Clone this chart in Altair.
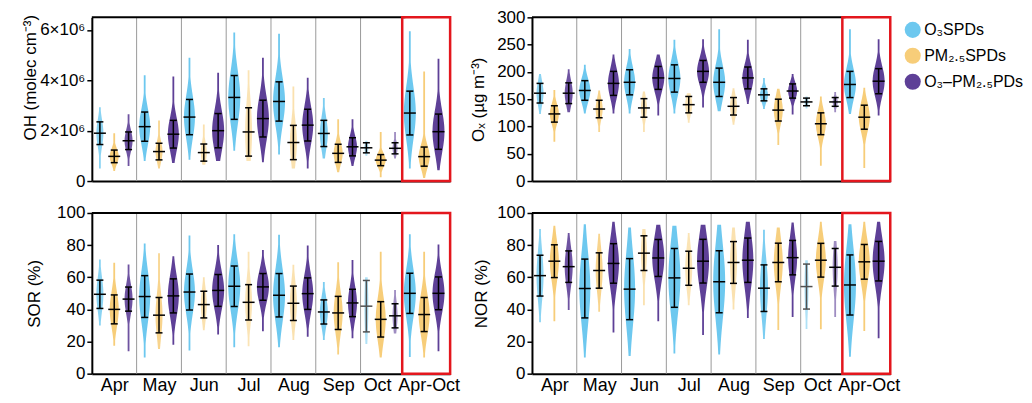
import json
import math
import altair as alt
import pandas as pd

months = ["Apr", "May", "Jun", "Jul", "Aug", "Sep", "Oct", "Apr-Oct"]
series = ["O₃SPDs", "PM₂.₅SPDs", "O₃–PM₂.₅PDs"]
colors = ["#6DC8EF", "#F7CD79", "#5E4097"]

# ---- OH (10^6 molec cm^-3): mean, SD, min, max per month ----
oh_mean_o3 = [1.90, 2.16, 2.54, 3.32, 3.16, 1.89, 1.32, 2.70]
oh_sd_o3 = [0.45, 0.58, 0.70, 0.87, 0.78, 0.52, 0.20, 0.87]
oh_min_o3 = [0.50, 0.80, 0.85, 1.20, 1.05, 0.90, 1.00, 0.50]
oh_max_o3 = [2.93, 4.20, 4.90, 5.90, 5.85, 3.30, 1.60, 5.95]
oh_mean_pm = [0.98, 1.17, 1.13, 1.95, 1.53, 1.10, 0.83, 0.97]
oh_sd_pm = [0.25, 0.33, 0.34, 0.96, 0.68, 0.36, 0.22, 0.38]
oh_min_pm = [0.40, 0.50, 0.65, 0.80, 0.50, 0.35, 0.15, 0.12]
oh_max_pm = [1.90, 2.40, 2.25, 4.40, 3.75, 2.45, 1.95, 4.35]
oh_mean_both = [1.60, 1.86, 2.00, 2.48, 2.22, 1.36, 1.30, 1.96]
oh_sd_both = [0.35, 0.55, 0.68, 0.73, 0.63, 0.36, 0.22, 0.70]
oh_min_both = [0.60, 0.72, 0.80, 0.75, 0.50, 0.60, 0.90, 0.43]
oh_max_both = [2.65, 4.15, 4.30, 4.90, 4.10, 2.45, 1.95, 4.86]

# ---- Ox (ug m-3) ----
ox_mean_o3 = [161, 166, 181, 188, 181, 158, 145, 177]
ox_sd_o3 = [18, 18, 23, 25, 26, 11, 7, 24]
ox_min_o3 = [123, 124, 124, 124, 128, 132, 133, 123]
ox_max_o3 = [196, 213, 242, 259, 278, 189, 155, 278]
ox_mean_pm = [123, 132, 134, 140, 137, 130, 105, 117]
ox_sd_pm = [15, 16, 17, 15, 16, 20, 20, 22]
ox_min_pm = [72, 90, 90, 107, 103, 66, 28, 24]
ox_max_pm = [167, 166, 164, 161, 170, 169, 155, 171]
ox_mean_both = [161, 179, 189, 201, 189, 165, 145, 183]
ox_sd_both = [19, 22, 21, 20, 20, 13, 8, 23]
ox_min_both = [126, 124, 120, 135, 141, 122, 126, 120]
ox_max_both = [205, 232, 232, 260, 259, 196, 163, 260]

# ---- SOR (%) ----
sor_mean_o3 = [49.4, 48.0, 50.8, 54.4, 48.8, 38.4, 42.0, 50.0]
sor_sd_o3 = [8.8, 13.0, 11.2, 12.6, 13.5, 7.5, 16.0, 12.5]
sor_min_o3 = [30.0, 10.0, 14.4, 16.4, 16.4, 21.0, 18.4, 10.4]
sor_max_o3 = [71.0, 81.0, 86.0, 86.8, 86.4, 57.0, 60.0, 86.8]
sor_mean_pm = [40.0, 36.4, 43.0, 44.4, 43.8, 37.8, 33.8, 36.8]
sor_sd_pm = [9.0, 11.0, 8.3, 11.0, 10.7, 10.3, 11.0, 10.6]
sor_min_pm = [17.4, 15.4, 27.0, 17.0, 21.0, 12.0, 10.0, 10.0]
sor_max_pm = [69.0, 75.0, 60.0, 75.8, 67.8, 69.4, 75.8, 75.8]
sor_mean_both = [46.4, 48.4, 51.8, 54.0, 49.8, 44.0, 36.0, 50.0]
sor_sd_both = [7.5, 10.6, 9.9, 8.3, 9.8, 8.5, 7.5, 10.2]
sor_min_both = [14.0, 18.0, 24.4, 26.4, 23.0, 22.0, 25.0, 14.0]
sor_max_both = [68.0, 73.0, 80.0, 77.0, 79.8, 70.8, 52.0, 80.4]

# ---- NOR (%) ----
nor_mean_o3 = [61.0, 53.0, 52.6, 59.6, 57.2, 53.2, 54.2, 55.2]
nor_sd_o3 = [12.7, 18.3, 19.0, 18.3, 19.3, 14.5, 14.0, 18.7]
nor_min_o3 = [32.0, 10.0, 11.0, 12.6, 12.0, 21.6, 27.8, 10.6]
nor_max_o3 = [90.0, 93.0, 91.0, 92.0, 92.6, 89.6, 70.6, 93.0]
nor_mean_pm = [70.0, 64.2, 75.0, 65.6, 69.2, 69.2, 70.6, 69.6]
nor_sd_pm = [10.2, 11.0, 10.8, 10.6, 13.0, 12.0, 10.5, 10.8]
nor_min_pm = [32.6, 38.6, 42.6, 42.6, 40.0, 27.2, 27.6, 26.6]
nor_max_pm = [92.0, 87.0, 90.0, 87.6, 91.0, 91.0, 94.6, 94.6]
nor_mean_both = [66.6, 68.6, 72.0, 70.0, 70.6, 72.2, 66.2, 70.0]
nor_sd_both = [9.8, 12.3, 11.5, 13.6, 13.8, 10.7, 11.7, 12.3]
nor_min_both = [39.6, 25.6, 32.6, 24.0, 34.6, 35.2, 35.2, 22.0]
nor_max_both = [87.6, 94.6, 92.6, 92.6, 94.6, 94.0, 82.6, 94.6]

# ---- style ----
W = 359
H_TOP, H_BOT = 164, 161
GW = W / 8.0
CENTER = [0.5, 1.5, 2.5, 3.5, 4.5, 5.5, 6.45, 7.42]
OFFS = [-0.32, 0.0, 0.32]
LABEL_AT = [0.5, 1.5, 2.5, 3.5, 4.5, 5.5, 6.37, 7.52]
HALF_W = [[3.5, 5.5, 5.5, 6, 6, 4, 2, 6],
          [4.5, 3.5, 3, 3.5, 3.5, 4.5, 5, 5.5],
          [4, 5.5, 6, 6, 5.5, 4.5, 2.5, 6]]
OPAC = [[0.8, 1, 1, 1, 1, 0.9, 0.55, 1],
        [1, 0.85, 0.6, 0.55, 0.6, 0.95, 1, 1],
        [0.9, 1, 1, 1, 1, 1, 0.6, 1]]
FONT = "Liberation Sans"


def tables(means, sds, mins, maxs, grey_bars):
    st, sh = [], []
    for si in range(3):
        for mi in range(8):
            m, s = means[si][mi], sds[si][mi]
            lo, hi = mins[si][mi], maxs[si][mi]
            pos = CENTER[mi] + OFFS[si]
            ec = "#505050" if (si, mi) in grey_bars else "black"
            st.append(dict(s=series[si], pos=pos, mean=m, lo=m - s, hi=m + s, ec=ec,
                           c1=pos - 3.5 / GW, c2=pos + 3.5 / GW,
                           m1=pos - 6.0 / GW, m2=pos + 6.0 / GW))
            n = 48
            for k in range(n + 1):
                y = lo + (hi - lo) * k / n
                hw = max(HALF_W[si][mi] * math.exp(-0.5 * ((y - m) / (1.2 * s)) ** 2), 0.9)
                sh.append(dict(g=f"{si}-{mi}", s=series[si], y=y,
                               x1=pos - hw / GW, x2=pos + hw / GW, op=OPAC[si][mi]))
    return pd.DataFrame(st), pd.DataFrame(sh)


def panel(means, sds, mins, maxs, ydom, yticks, ylabel_expr, ytitle, tpad, bottom,
          title_y=None, grey_bars=()):
    H = H_BOT if bottom else H_TOP
    st, sh = tables(means, sds, mins, maxs, set(grey_bars))
    xs = alt.Scale(domain=[0, 8], nice=False, zero=False)
    ys = alt.Scale(domain=ydom, nice=False, zero=False)
    if bottom:
        xaxis = alt.Axis(values=LABEL_AT,
                         labelExpr=json.dumps(months) + "[floor(datum.value)]",
                         tickSize=0, labelFontSize=18, labelPadding=3, labelColor="black",
                         domainColor="black", domainWidth=2, grid=False, title=None,
                         labelFlush=False, labelOverlap=False)
    else:
        xaxis = alt.Axis(values=[], labels=False, ticks=False, domainColor="black",
                         domainWidth=2, grid=False, title=None)
    ykw = dict(values=yticks, labelExpr=ylabel_expr, title=ytitle,
               titleFontSize=17, titleFontWeight="normal", titleColor="black",
               titlePadding=tpad, labelFontSize=17, labelColor="black", labelPadding=2,
               tickSize=5, tickWidth=1.5, tickColor="black",
               domainColor="black", domainWidth=2, grid=False)
    if title_y is not None:
        ykw["titleY"] = title_y
    yaxis = alt.Axis(**ykw)

    def X(f):
        return alt.X(f, scale=xs, axis=xaxis)

    def Y(f):
        return alt.Y(f, scale=ys, axis=yaxis)

    sep = alt.Chart(pd.DataFrame({"x": [1, 2, 3, 4, 5, 6]})).mark_rule(
        color="#9a9a9a", strokeWidth=1).encode(x=X("x:Q"))
    top = alt.Chart(pd.DataFrame({"a": [0], "b": [7]})).mark_rule(
        color="black", strokeWidth=2).encode(x=X("a:Q"), x2="b", y=alt.value(0))
    viol = alt.Chart(sh).mark_area(orient="horizontal", strokeWidth=0).encode(
        y=Y("y:Q"), x=X("x1:Q"), x2="x2",
        detail="g:N",
        color=alt.Color("s:N", scale=alt.Scale(domain=series, range=colors),
                        legend=alt.Legend(title=None, orient="none", legendX=814, legendY=4,
                                          symbolType="circle", symbolSize=260,
                                          symbolOpacity=1, symbolStrokeWidth=0,
                                          labelFontSize=16, labelColor="black",
                                          rowPadding=9, labelOffset=3, padding=0,
                                          labelLimit=200)),
        opacity=alt.Opacity("op:Q", scale=None))
    eb = alt.Chart(st)
    ecol = alt.Stroke("ec:N", scale=None)
    vbar = eb.mark_rule(strokeWidth=1.5).encode(
        x=X("pos:Q"), y=Y("lo:Q"), y2="hi", stroke=ecol)
    cap_hi = eb.mark_rule(strokeWidth=1.5).encode(
        x=X("c1:Q"), x2="c2", y=Y("hi:Q"), stroke=ecol)
    cap_lo = eb.mark_rule(strokeWidth=1.5).encode(
        x=X("c1:Q"), x2="c2", y=Y("lo:Q"), stroke=ecol)
    mline = eb.mark_rule(strokeWidth=1.5).encode(
        x=X("m1:Q"), x2="m2", y=Y("mean:Q"), stroke=ecol)
    red = alt.Chart(pd.DataFrame({"a": [6.93], "b": [8]})).mark_rect(
        fillOpacity=0, stroke="#E3161D", strokeWidth=2.5).encode(
        x=X("a:Q"), x2="b", y=alt.value(0), y2=alt.value(H))
    return alt.layer(sep, top, viol, vbar, cap_hi, cap_lo, mline, red).properties(
        width=W, height=H)


oh = panel([oh_mean_o3, oh_mean_pm, oh_mean_both], [oh_sd_o3, oh_sd_pm, oh_sd_both],
           [oh_min_o3, oh_min_pm, oh_min_both], [oh_max_o3, oh_max_pm, oh_max_both],
           [0, 6.5], [0, 2, 4, 6],
           "datum.value == 0 ? '0' : datum.value + '×10⁶'",
           "OH (molec cm⁻³)", 0, False, title_y=60)
ox = panel([ox_mean_o3, ox_mean_pm, ox_mean_both], [ox_sd_o3, ox_sd_pm, ox_sd_both],
           [ox_min_o3, ox_min_pm, ox_min_both], [ox_max_o3, ox_max_pm, ox_max_both],
           [0, 300], [0, 50, 100, 150, 200, 250, 300], "datum.label",
           "Oₓ (µg m⁻³)", 9, False)
sor = panel([sor_mean_o3, sor_mean_pm, sor_mean_both], [sor_sd_o3, sor_sd_pm, sor_sd_both],
            [sor_min_o3, sor_min_pm, sor_min_both], [sor_max_o3, sor_max_pm, sor_max_both],
            [0, 100], [0, 20, 40, 60, 80, 100], "datum.label",
            "SOR (%)", 13, True, grey_bars=[(0, 6)])
nor = panel([nor_mean_o3, nor_mean_pm, nor_mean_both], [nor_sd_o3, nor_sd_pm, nor_sd_both],
            [nor_min_o3, nor_min_pm, nor_min_both], [nor_max_o3, nor_max_pm, nor_max_both],
            [0, 100], [0, 20, 40, 60, 80, 100], "datum.label",
            "NOR (%)", 6, True, grey_bars=[(0, 6)])

chart = alt.concat(oh, ox, sor, nor, columns=2, spacing={"row": 15, "column": 9}).properties(
    padding={"left": 13, "top": 0, "right": 0, "bottom": 0}
).configure(font=FONT).configure_view(stroke=None)

chart.save("out.html", embed_options={"renderer": "svg", "actions": False})
